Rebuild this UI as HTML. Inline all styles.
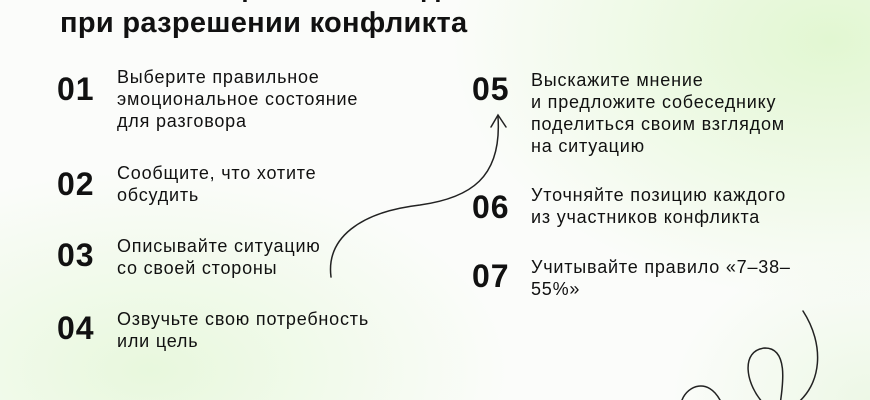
<!DOCTYPE html>
<html><head><meta charset="utf-8"><style>
body{margin:0}
.c{position:relative;width:870px;height:400px;overflow:hidden;font-family:"Liberation Sans",sans-serif;color:#111;
background:
radial-gradient(ellipse 380px 260px at 830px 40px,#e2f7d2,rgba(255,255,255,0)),
radial-gradient(ellipse 360px 200px at 150px 370px,#e8f8dd,rgba(255,255,255,0)),
radial-gradient(ellipse 200px 150px at 870px 400px,#edf8e6,rgba(255,255,255,0)),
#fbfcfa;}
.n{position:absolute;font-weight:bold;font-size:32px;line-height:31px;letter-spacing:1px}
.t{position:absolute;font-size:18px;line-height:22px;white-space:nowrap;letter-spacing:0.8px}
.h{position:absolute;left:60px;top:6px;font-weight:bold;font-size:29px;line-height:34px;white-space:nowrap;letter-spacing:0.3px}
</style></head><body><div class="c">
<div class="h" style="top:-30px">Техники общения и поведения</div>
<div class="h">при разрешении конфликта</div>

<div class="n" style="left:57px;top:74px">01</div>
<div class="t" style="left:117px;top:66px">Выберите правильное<br>эмоциональное состояние<br>для разговора</div>
<div class="n" style="left:57px;top:169px">02</div>
<div class="t" style="left:117px;top:162px">Сообщите, что хотите<br>обсудить</div>
<div class="n" style="left:57px;top:240px">03</div>
<div class="t" style="left:117px;top:235px">Описывайте ситуацию<br>со своей стороны</div>
<div class="n" style="left:57px;top:313px">04</div>
<div class="t" style="left:117px;top:308px">Озвучьте свою потребность<br>или цель</div>

<div class="n" style="left:472px;top:74px">05</div>
<div class="t" style="left:531px;top:69px">Выскажите мнение<br>и предложите собеседнику<br>поделиться своим взглядом<br>на ситуацию</div>
<div class="n" style="left:472px;top:192px">06</div>
<div class="t" style="left:531px;top:184px">Уточняйте позицию каждого<br>из участников конфликта</div>
<div class="n" style="left:472px;top:261px">07</div>
<div class="t" style="left:531px;top:256px">Учитывайте правило «7–38–<br>55%»</div>

<svg width="870" height="400" style="position:absolute;left:0;top:0" fill="none" stroke="#222" stroke-width="1.5" stroke-linecap="round">
<path d="M331,277 C326,238 360,212 420,205 C470,198 502,178 498,117"/>
<path d="M491,127 L498,115 L506,127"/>
<path d="M803,311 C825,345 822,385 795,405"/>
<path d="M765,405 C745,385 740,350 765,348 C790,348 782,390 780,405"/>
<path d="M682,400 C688,385 708,378 720,400"/>
</svg>
</div></body></html>
